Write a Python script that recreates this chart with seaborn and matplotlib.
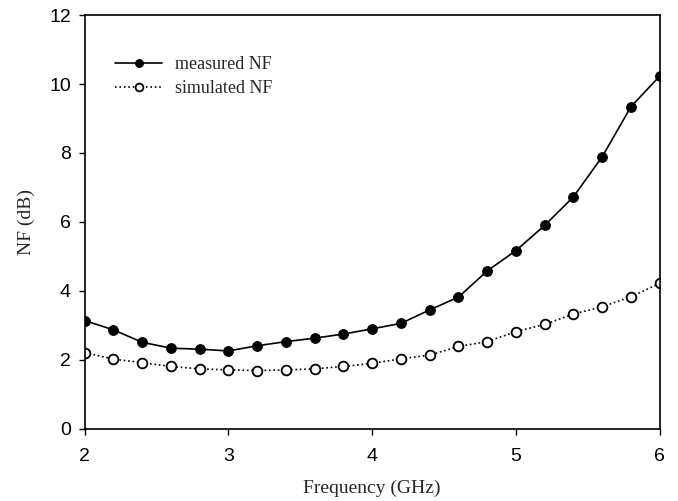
import pandas as pd
import matplotlib
matplotlib.use("Agg")
import matplotlib.pyplot as plt
import seaborn as sns

freq = [2.0, 2.2, 2.4, 2.6, 2.8, 3.0, 3.2, 3.4, 3.6, 3.8, 4.0,
        4.2, 4.4, 4.6, 4.8, 5.0, 5.2, 5.4, 5.6, 5.8, 6.0]
measured = [3.14, 2.87, 2.51, 2.34, 2.31, 2.26, 2.41, 2.53, 2.63, 2.75, 2.90,
            3.06, 3.45, 3.82, 4.58, 5.17, 5.90, 6.73, 7.89, 9.34, 10.23]
simulated = [2.21, 2.02, 1.92, 1.81, 1.74, 1.71, 1.69, 1.71, 1.74, 1.81, 1.90,
             2.03, 2.14, 2.39, 2.53, 2.82, 3.03, 3.33, 3.54, 3.83, 4.22]

df = pd.DataFrame({"freq": freq, "measured": measured, "simulated": simulated})

sns.set_style("ticks")
plt.rcParams["font.family"] = ["Liberation Sans", "DejaVu Sans"]

fig = plt.figure(figsize=(6.78, 5.01), dpi=100)
ax = fig.add_axes([0.125, 0.144, 0.848, 0.826])

sns.lineplot(data=df, x="freq", y="measured", ax=ax, color="black", lw=1.2,
             marker="o", markersize=7, markerfacecolor="black",
             markeredgecolor="black", label="measured NF")
sns.lineplot(data=df, x="freq", y="simulated", ax=ax, color="black", lw=1.2,
             linestyle=":", marker="o", markersize=7, markerfacecolor="white",
             markeredgecolor="black", markeredgewidth=1.3, label="simulated NF")

ax.set_xlim(2, 6)
ax.set_ylim(0, 12)
ax.set_xticks([2, 3, 4, 5, 6])
ax.set_yticks([0, 2, 4, 6, 8, 10, 12])
ax.tick_params(labelsize=14, direction="out", length=4, width=1, colors="black")
ax.tick_params(axis="x", pad=10)
ax.tick_params(axis="y", pad=6)
for s in ax.spines.values():
    s.set_linewidth(1.2)
    s.set_color("black")

serif = ["Liberation Serif", "DejaVu Serif"]
ax.set_xlabel("Frequency (GHz)", fontsize=14, family=serif, labelpad=10)
ax.set_ylabel("NF (dB)", fontsize=14, family=serif, labelpad=10)

leg = ax.legend(loc="upper left", bbox_to_anchor=(0.025, 0.94), frameon=False,
                prop={"family": serif, "size": 13}, handlelength=2.6,
                handletextpad=0.7, labelspacing=0.4, markerscale=0.8)

fig.savefig("out.png", dpi=100)
